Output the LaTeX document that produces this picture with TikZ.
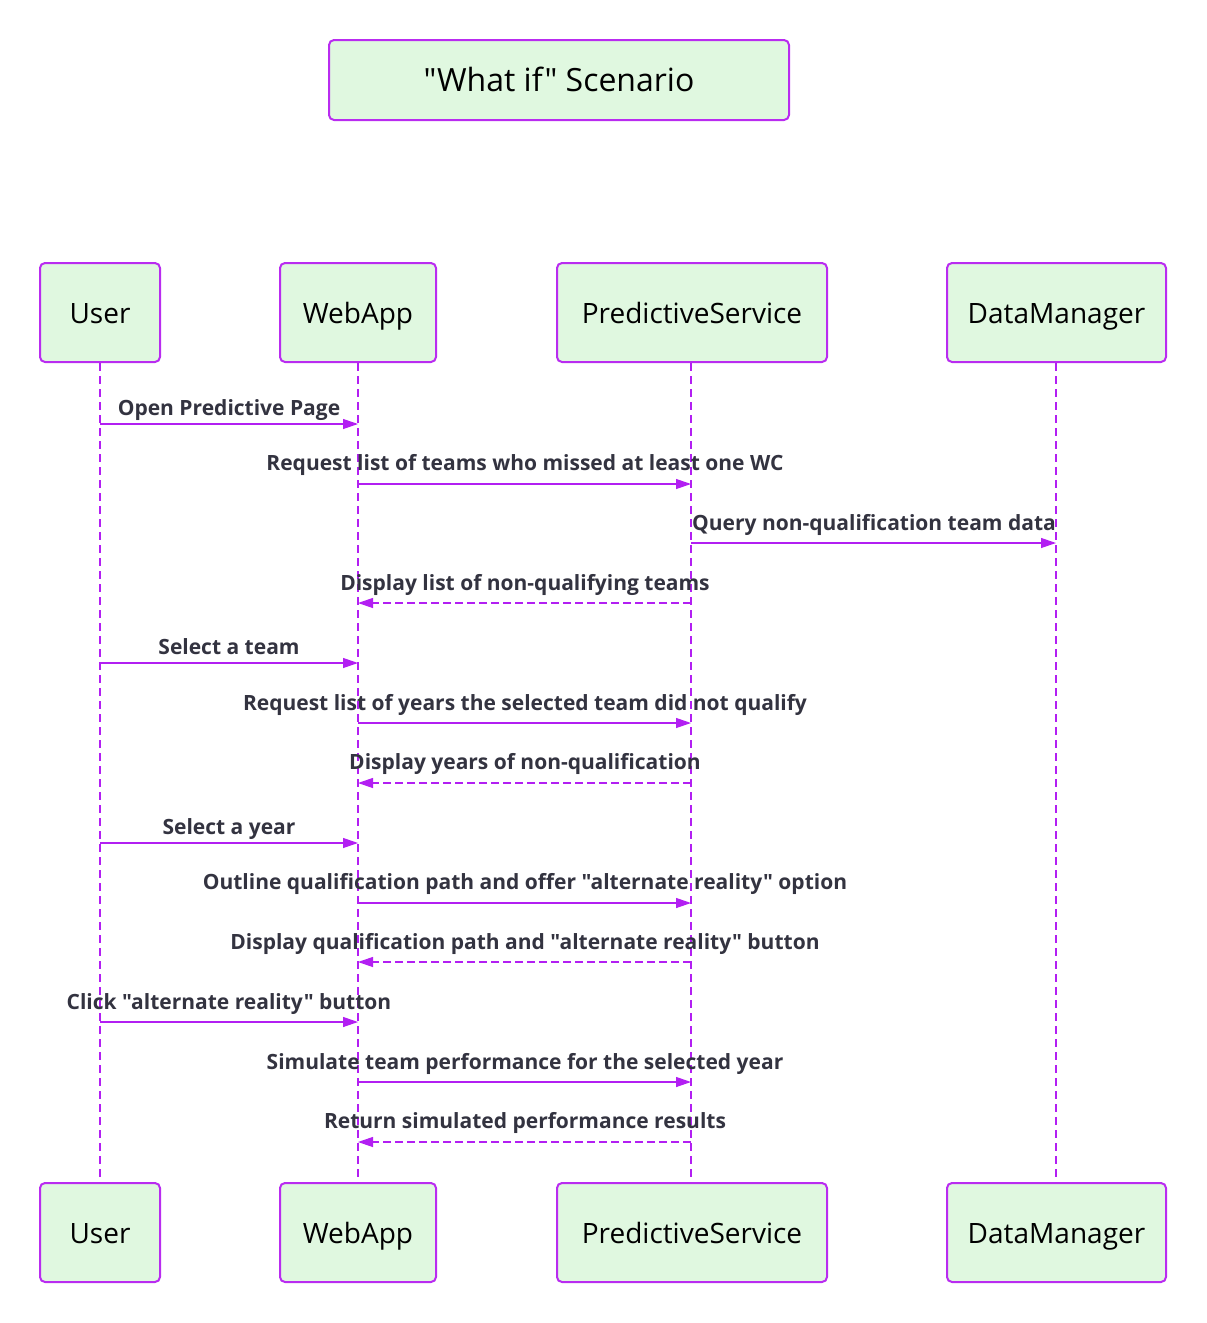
\documentclass[tikz,border=0pt]{standalone}
\usepackage{fontspec}
\setmainfont{Open Sans}[Ligatures=TeXOff]
\usetikzlibrary{arrows.meta}
\definecolor{boxfill}{HTML}{E0F8E0}
\definecolor{boxline}{HTML}{B92CF0}
\definecolor{msgline}{HTML}{B21FF2}
\definecolor{msgtext}{HTML}{333340}
\newcommand{\qq}{\symbol{34}}
\tikzset{
  actor/.style={draw=boxline, fill=boxfill, line width=2pt, rounded corners=5pt, font=\fontsize{28}{32}\selectfont, text=black, inner sep=0pt, text height=25pt, text depth=4pt},
  lifeline/.style={draw=msgline, line width=1.2pt, dash pattern=on 8pt off 5pt},
  msg/.style={draw=msgline, line width=1.2pt, -{Triangle[length=15pt,width=10pt]}},
  reply/.style={msg, dash pattern=on 8pt off 4pt},
  lbl/.style={font=\bfseries\fontsize{21}{24}\selectfont, text=msgtext, inner sep=0pt, anchor=center, text height=18pt, text depth=3pt}
}
\begin{document}
\begin{tikzpicture}[x=1pt,y=-1pt]
\useasboundingbox (0,0) rectangle (1207,1323);
% title
\node[actor, font=\fontsize{32}{36}\selectfont, text height=26pt, text depth=4pt, minimum width=460pt, minimum height=80pt] (title) at (559,80) {\qq What if\qq{} Scenario};
% actors top
\node[actor, minimum width=120pt, minimum height=99pt] (ut) at (100,312.5) {User};
\node[actor, minimum width=156pt, minimum height=99pt] (wt) at (358,312.5) {WebApp};
\node[actor, minimum width=270pt, minimum height=99pt] (pt) at (692,312.5) {PredictiveService};
\node[actor, minimum width=219pt, minimum height=99pt] (dt) at (1056.5,312.5) {DataManager};
% actors bottom
\node[actor, minimum width=120pt, minimum height=99pt] (ub) at (100,1232.5) {User};
\node[actor, minimum width=156pt, minimum height=99pt] (wb) at (358,1232.5) {WebApp};
\node[actor, minimum width=270pt, minimum height=99pt] (pb) at (692,1232.5) {PredictiveService};
\node[actor, minimum width=219pt, minimum height=99pt] (db) at (1056.5,1232.5) {DataManager};
% lifelines
\draw[lifeline] (100,363) -- (100,1182);
\draw[lifeline] (358,363) -- (358,1182);
\draw[lifeline] (691,363) -- (691,1182);
\draw[lifeline] (1056,363) -- (1056,1182);
% message anchor coordinates
\foreach \n/\y in {1/424,2/484,3/543,4/603,5/663,6/723,7/783,8/843,9/903,10/962,11/1022,12/1082,13/1142}{
  \coordinate (u\n) at (100,\y);
  \coordinate (w\n) at (358,\y);
  \coordinate (p\n) at (691,\y);
  \coordinate (d\n) at (1056,\y);
}
\draw[msg] (u1) -- (w1);
\node[lbl] (l1) at (229,408) {Open Predictive Page};
\draw[msg] (w2) -- (p2);
\node[lbl] (l2) at (525,463) {Request list of teams who missed at least one WC};
\draw[msg] (p3) -- (d3);
\node[lbl] (l3) at (874,523) {Query non-qualification team data};
\draw[reply] (p4) -- (w4);
\node[lbl] (l4) at (525,583) {Display list of non-qualifying teams};
\draw[msg] (u5) -- (w5);
\node[lbl] (l5) at (229,647) {Select a team};
\draw[msg] (w6) -- (p6);
\node[lbl] (l6) at (525,703) {Request list of years the selected team did not qualify};
\draw[reply] (p7) -- (w7);
\node[lbl] (l7) at (525,762) {Display years of non-qualification};
\draw[msg] (u8) -- (w8);
\node[lbl] (l8) at (229,827) {Select a year};
\draw[msg] (w9) -- (p9);
\node[lbl] (l9) at (525,882) {Outline qualification path and offer \qq alternate reality\qq{} option};
\draw[reply] (p10) -- (w10);
\node[lbl] (l10) at (525,942) {Display qualification path and \qq alternate reality\qq{} button};
\draw[msg] (u11) -- (w11);
\node[lbl] (l11) at (229,1002) {Click \qq alternate reality\qq{} button};
\draw[msg] (w12) -- (p12);
\node[lbl] (l12) at (525,1062) {Simulate team performance for the selected year};
\draw[reply] (p13) -- (w13);
\node[lbl] (l13) at (525,1121) {Return simulated performance results};
\end{tikzpicture}
\end{document}
